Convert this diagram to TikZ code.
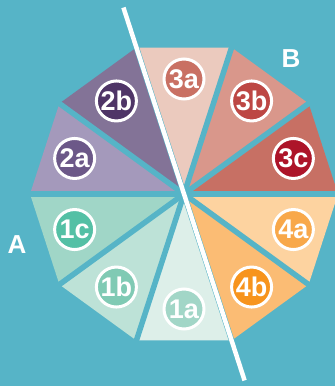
\documentclass[tikz,border=0pt]{standalone}
\usepackage{fontspec}
\setmainfont{Liberation Sans}
\usepackage{tikz}
\usetikzlibrary{positioning}
\definecolor{bg}{HTML}{56B4C7}
% wedge colours
\definecolor{w3a}{HTML}{EBCABE}
\definecolor{w3b}{HTML}{D9978B}
\definecolor{w3c}{HTML}{C77064}
\definecolor{w4a}{HTML}{FDD3A0}
\definecolor{w4b}{HTML}{FBBC74}
\definecolor{w1a}{HTML}{DDEFE9}
\definecolor{w1b}{HTML}{BDE2D7}
\definecolor{w1c}{HTML}{A0D6C7}
\definecolor{w2a}{HTML}{A499BB}
\definecolor{w2b}{HTML}{837397}
% badge colours
\definecolor{b3a}{HTML}{C97063}
\definecolor{b3b}{HTML}{BD4744}
\definecolor{b3c}{HTML}{AD1429}
\definecolor{b4a}{HTML}{F8A84A}
\definecolor{b4b}{HTML}{F7941D}
\definecolor{b1a}{HTML}{A2D6C7}
\definecolor{b1b}{HTML}{80CAB4}
\definecolor{b1c}{HTML}{54C0A5}
\definecolor{b2a}{HTML}{6C5888}
\definecolor{b2b}{HTML}{4F3567}
\tikzset{
  badge/.style={circle, draw=white, line width=3pt, minimum size=40pt, inner sep=0pt,
    text=white, font=\bfseries\fontsize{27}{27}\selectfont},
  side/.style={text=white, font=\bfseries\fontsize{26}{26}\selectfont}
}
\begin{document}
\begin{tikzpicture}[x=1pt,y=1pt]
\fill[bg] (-184,-192) rectangle (151,194);
\useasboundingbox (-184,-192) rectangle (151,194);
\clip (-184,-192) rectangle (151,194);
\coordinate (hub) at (0,0);
\foreach \a/\lbl in {90/3a,54/3b,18/3c,-18/4a,-54/4b,-90/1a,-126/1b,-162/1c,162/2a,126/2b} {
  \fill[w\lbl] (hub) -- (\a-18:154) -- (\a+18:154) -- cycle;
}
% gaps between the wedges
\foreach \v in {0,36,...,324} {
  \draw[bg, line width=5.5pt] (hub) -- (\v:165);
}
\coordinate (cutTop) at (108:196);
\coordinate (cutBot) at (288:196);
\draw[white, line width=4.5pt] (cutTop) -- (cutBot);
\foreach \a/\lbl in {90/3a,54/3b,18/3c,-18/4a,-54/4b,-90/1a,-126/1b,-162/1c,162/2a,126/2b} {
  \node[badge, fill=b\lbl] (n\lbl) at (\a:115) {\lbl};
}
\node[side] (sideA) at (-167,-51) {A};
\node[side] (sideB) at (107,135) {B};
\end{tikzpicture}
\end{document}
